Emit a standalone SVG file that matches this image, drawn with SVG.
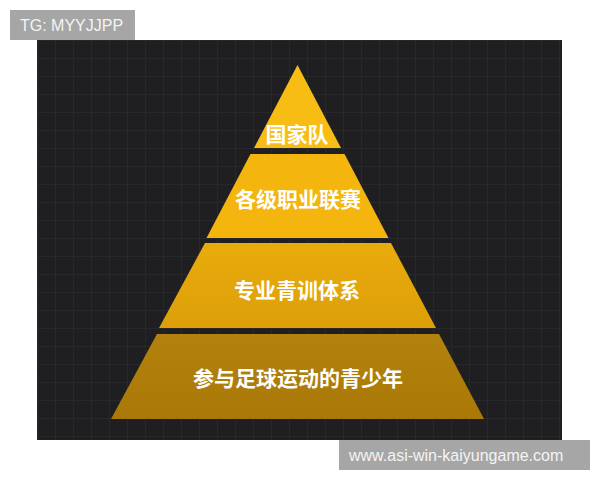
<svg xmlns="http://www.w3.org/2000/svg" width="600" height="480" viewBox="0 0 600 480">
<style>
.lbl{font-family:"Noto Sans CJK SC","Noto Sans",sans-serif;font-weight:bold;font-size:21px;fill:#ffffff;text-anchor:middle}
.wm{font-family:"Liberation Sans",Arial,sans-serif;font-size:16px;fill:#f4f4f4}
</style>
<defs>
<pattern id="grid" x="37" y="40" width="18" height="18" patternUnits="userSpaceOnUse">
<path d="M0 0.5H18M0.5 0V18" stroke="#28282b" stroke-width="1" fill="none"/>
</pattern>
<linearGradient id="g4" x1="0" y1="0" x2="0" y2="1"><stop offset="0" stop-color="#b3820e"/><stop offset="1" stop-color="#a97806"/></linearGradient>
<linearGradient id="g3" x1="0" y1="0" x2="0" y2="1"><stop offset="0" stop-color="#e9ab0c"/><stop offset="1" stop-color="#dc9f08"/></linearGradient>
</defs>
<rect width="600" height="480" fill="#ffffff"/>
<rect x="37" y="40" width="525" height="400" fill="#1f1f21"/>
<rect x="37" y="40" width="525" height="400" fill="url(#grid)"/>
<g id="tier1"><polygon points="297.5,65 341,148 254,148" fill="#f7bd14"/><text class="lbl" x="297" y="142">国家队</text></g>
<g id="tier2"><polygon points="250.5,154 344.5,154 388.5,238 206.5,238" fill="#f4b60e"/><text class="lbl" x="298" y="207">各级职业联赛</text></g>
<g id="tier3"><polygon points="205,243 391,243 436,328 159,328" fill="url(#g3)"/><text class="lbl" x="297" y="298">专业青训体系</text></g>
<g id="tier4"><polygon points="157,334 439,334 484,419 111,419" fill="url(#g4)"/><text class="lbl" x="298" y="386">参与足球运动的青少年</text></g>
<g id="tag"><rect x="10" y="10" width="125" height="30" fill="#a6a6a6"/><text class="wm" x="20" y="31">TG: MYYJJPP</text></g>
<g id="url"><rect x="339" y="440" width="251" height="30" fill="#a6a6a6"/><text class="wm" x="349" y="461">www.asi-win-kaiyungame.com</text></g>
<g id="connectors"></g>
</svg>
